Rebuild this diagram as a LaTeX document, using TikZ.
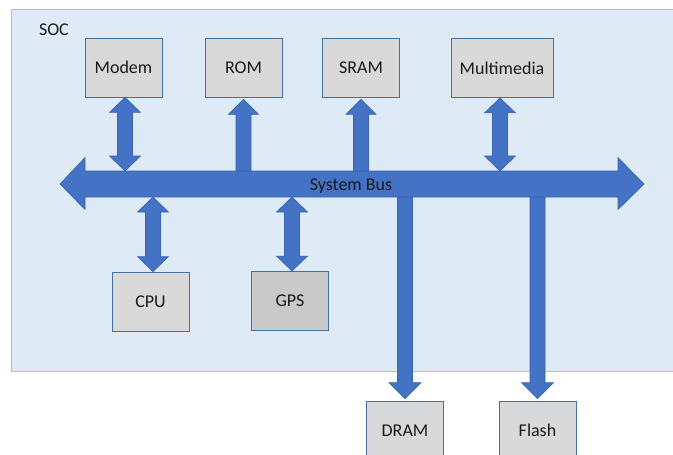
\documentclass[tikz,border=0pt]{standalone}
\usepackage{fontspec}
\setmainfont{Carlito}
\usetikzlibrary{calc}
\definecolor{socfill}{HTML}{DEEBF7}
\definecolor{socline}{HTML}{9DC3E6}
\definecolor{boxfill}{HTML}{D9D9D9}
\definecolor{gpsfill}{HTML}{C9C9C9}
\definecolor{boxline}{HTML}{41719C}
\definecolor{arrfill}{HTML}{4472C4}
\definecolor{arrline}{HTML}{3A63AD}
\definecolor{txt}{HTML}{1A1A1A}
\newcommand\BiArrow[2]{\path[barrow] let \p1=(#1),\p2=(#2) in
 (\x1,\y1) -- (\x1+15.5pt,\y1-15pt) -- (\x1+7.5pt,\y1-15pt) -- (\x1+7.5pt,\y2+15pt) -- (\x1+15.5pt,\y2+15pt) -- (\x1,\y2) -- (\x1-15.5pt,\y2+15pt) -- (\x1-7.5pt,\y2+15pt) -- (\x1-7.5pt,\y1-15pt) -- (\x1-15.5pt,\y1-15pt) -- cycle;}
\newcommand\UpArrow[2]{\path[barrow] let \p1=(#1),\p2=(#2) in
 (\x1,\y1) -- (\x1+15pt,\y1-15pt) -- (\x1+7.5pt,\y1-15pt) -- (\x1+7.5pt,\y2) -- (\x1-7.5pt,\y2) -- (\x1-7.5pt,\y1-15pt) -- (\x1-15pt,\y1-15pt) -- cycle;}
\newcommand\DownArrow[2]{\path[barrow] let \p1=(#1),\p2=(#2) in
 (\x1-7.5pt,\y1) -- (\x1+7.5pt,\y1) -- (\x1+7.5pt,\y2+16pt) -- (\x1+16pt,\y2+16pt) -- (\x1,\y2) -- (\x1-16pt,\y2+16pt) -- (\x1-7.5pt,\y2+16pt) -- cycle;}
\begin{document}
\begin{tikzpicture}[x=1pt,y=-1pt,
  lbl/.style={font=\fontsize{18}{21}\selectfont, text=txt},
  block/.style={lbl, draw=boxline, fill=boxfill, line width=0.8pt, minimum width=77pt, minimum height=59pt, inner sep=0pt},
  barrow/.style={fill=arrfill, draw=arrline, line width=0.6pt, line join=miter},
  soc/.style={draw=socline, fill=socfill, line width=1pt}]
\useasboundingbox (0,0) rectangle (673,455);
\clip (0,0) rectangle (673,455);
\path[soc] (11,9.5) rectangle (690,371);
\node[lbl, anchor=base west] (soclbl) at (35.5,35) {SOC};
\node[block] (modem) at (123.5,67.5) {Modem};
\node[block] (rom) at (243.5,67.5) {ROM};
\node[block] (sram) at (361,67.5) {SRAM};
\node[block, minimum width=102pt] (mm) at (502,68) {Multimedia};
\node[block] (cpu) at (150.5,301.5) {CPU};
\node[block, fill=gpsfill] (gps) at (290,301) {GPS};
\node[block] (dram) at (405,430.5) {DRAM};
\node[block] (flash) at (537.5,430.5) {Flash};
\coordinate (bustop) at (0,171);
\coordinate (busbot) at (0,197);
\BiArrow{[xshift=1.5pt]modem.south}{[xshift=1.5pt]modem.south |- bustop}
\UpArrow{[yshift=-2pt]rom.south}{rom.south |- bustop}
\UpArrow{[yshift=-2pt]sram.south}{sram.south |- bustop}
\BiArrow{[xshift=-2pt]mm.south}{[xshift=-2pt]mm.south |- bustop}
\BiArrow{[xshift=2.5pt]cpu.north |- busbot}{[xshift=2.5pt]cpu.north}
\BiArrow{[xshift=2pt]gps.north |- busbot}{[xshift=2pt]gps.north}
\DownArrow{dram.north |- busbot}{[yshift=2pt]dram.north}
\DownArrow{flash.north |- busbot}{[yshift=2pt]flash.north}
\path[barrow] (60,184) -- (85,157.5) -- (85,171) -- (618,171) -- (618,157.5) -- (644,184) -- (618,209.5) -- (618,197) -- (85,197) -- (85,209.5) -- cycle;
\node[lbl, anchor=base] (bus) at (351,190) {System Bus};
\end{tikzpicture}
\end{document}
